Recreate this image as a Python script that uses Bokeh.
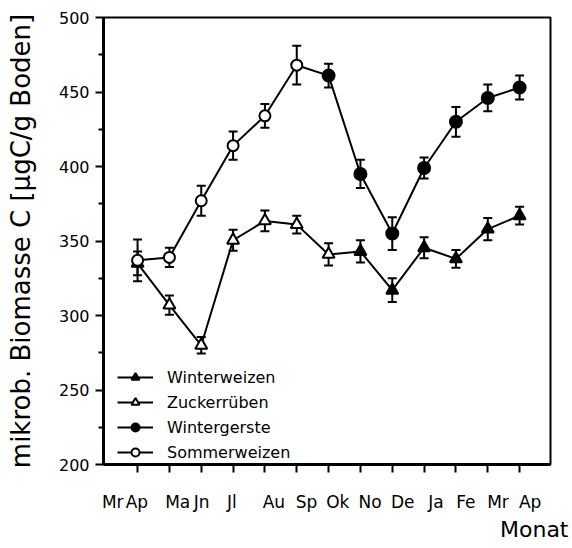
from bokeh.plotting import figure
from bokeh.models import (ColumnDataSource, Range1d, FixedTicker,
                          Whisker, TeeHead, Legend, LegendItem, Title)
from bokeh.embed import file_html
from bokeh.resources import INLINE

# Month labels along the time axis (March of year 1 to April of year 2)
month_labels = ["Mr", "Ap", "Ma", "Jn", "Jl", "Au", "Sp", "Ok",
                "No", "De", "Ja", "Fe", "Mr", "Ap"]

# Sampling dates (index on the month axis)
sommerweizen_t = [1, 2, 3, 4, 5, 6]
sommerweizen_c = [337, 339, 377, 414, 434, 468]
sommerweizen_err = [14, 6.5, 10, 9.5, 8, 13]

wintergerste_t = [7, 8, 9, 10, 11, 12, 13]
wintergerste_c = [461, 395, 355, 399, 430, 446, 453]
wintergerste_err = [8, 9.5, 11, 7, 10, 9, 8]

zuckerrueben_t = [2, 3, 4, 5, 6, 7]
zuckerrueben_c = [307, 280, 350.5, 363.5, 361, 341]
zuckerrueben_err = [6.5, 5.5, 7, 7, 6, 7.5]

winterweizen_t = [1, 8, 9, 10, 11, 12, 13]
winterweizen_c = [335, 343, 317, 345.5, 338, 358, 367]
winterweizen_err = [8, 7.5, 8, 7, 6, 7.5, 6]

# Layout of the month labels (axis units); they sit slightly right of the ticks
label_pos = [0.22, 0.98, 2.26, 3.01, 3.96, 5.28, 6.31, 7.29,
             8.30, 9.33, 10.37, 11.31, 12.32, 13.33]

FONT = "DejaVu Sans"


def src(t, c, e):
    return ColumnDataSource(dict(t=t, c=c,
                                 lo=[v - d for v, d in zip(c, e)],
                                 hi=[v + d for v, d in zip(c, e)]))


def joined(t1, c1, t2, c2):
    pairs = sorted(zip(t1 + t2, c1 + c2))
    return [q[0] for q in pairs], [q[1] for q in pairs]


p = figure(width=572, height=548, output_backend="svg", toolbar_location=None,
           x_range=Range1d(-0.07, 13.97), y_range=Range1d(200, 500),
           min_border_left=103, min_border_right=22, min_border_top=17,
           min_border_bottom=84)
p.grid.visible = False
p.outline_line_color = "black"
p.outline_line_width = 2
p.background_fill_color = "white"
p.border_fill_color = "white"

# connecting lines
tt, tc = joined(winterweizen_t, winterweizen_c, zuckerrueben_t, zuckerrueben_c)
ct, cc = joined(sommerweizen_t, sommerweizen_c, wintergerste_t, wintergerste_c)
line_tri = p.line(tt, tc, line_color="black", line_width=2)
line_circ = p.line(ct, cc, line_color="black", line_width=2)

sources = {
    "ww": src(winterweizen_t, winterweizen_c, winterweizen_err),
    "zr": src(zuckerrueben_t, zuckerrueben_c, zuckerrueben_err),
    "wg": src(wintergerste_t, wintergerste_c, wintergerste_err),
    "sw": src(sommerweizen_t, sommerweizen_c, sommerweizen_err),
}
for s in sources.values():
    p.add_layout(Whisker(source=s, base="t", upper="hi", lower="lo",
                         line_width=2, line_color="black",
                         upper_head=TeeHead(size=9, line_width=2),
                         lower_head=TeeHead(size=9, line_width=2)))

r_ww = p.scatter("t", "c", source=sources["ww"], marker="triangle", size=12,
                 fill_color="black", line_color="black", line_width=2)
r_zr = p.scatter("t", "c", source=sources["zr"], marker="triangle", size=12,
                 fill_color="white", line_color="black", line_width=2)
r_wg = p.scatter("t", "c", source=sources["wg"], marker="circle", size=12,
                 fill_color="black", line_color="black", line_width=2)
r_sw = p.scatter("t", "c", source=sources["sw"], marker="circle", size=11,
                 fill_color="white", line_color="black", line_width=2)

# y axis
yax = p.yaxis[0]
yax.ticker = FixedTicker(ticks=[200, 250, 300, 350, 400, 450, 500],
                         minor_ticks=[225, 275, 325, 375, 425, 475])
yax.axis_label = "mikrob. Biomasse C [\u03bcgC/g Boden]"
yax.axis_label_text_font = FONT
yax.axis_label_text_font_style = "normal"
yax.axis_label_text_font_size = "26px"
yax.axis_label_text_color = "black"
yax.axis_label_standoff = 20
yax.major_label_text_font = FONT
yax.major_label_text_font_size = "16px"
yax.major_label_text_color = "black"
yax.major_label_standoff = 6
yax.axis_line_width = 3
yax.major_tick_line_width = 2
yax.minor_tick_line_width = 2
yax.major_tick_out = 8
yax.major_tick_in = 0
yax.minor_tick_out = 5
yax.minor_tick_in = 0

# x axis: tick marks at the sampling dates (drawn as minor ticks),
# month names placed just right of them
xax = p.xaxis[0]
xax.ticker = FixedTicker(ticks=label_pos, minor_ticks=list(range(1, 14)))
xax.major_label_overrides = {pos: m for pos, m in zip(label_pos, month_labels)}
xax.axis_line_width = 3
xax.major_tick_line_color = None
xax.major_tick_out = 0
xax.major_tick_in = 0
xax.minor_tick_line_width = 2
xax.minor_tick_out = 8
xax.minor_tick_in = 0
xax.major_label_text_font = FONT
xax.major_label_text_font_size = "17px"
xax.major_label_text_color = "black"
xax.major_label_standoff = 19

p.add_layout(Title(text="Monat", align="right", offset=-18, standoff=0,
                   text_font=FONT, text_font_size="22px",
                   text_font_style="normal", text_color="black"), "below")

legend = Legend(items=[
    LegendItem(label="Winterweizen", renderers=[line_tri, r_ww]),
    LegendItem(label="Zuckerr\u00fcben", renderers=[line_tri, r_zr]),
    LegendItem(label="Wintergerste", renderers=[line_circ, r_wg]),
    LegendItem(label="Sommerweizen", renderers=[line_circ, r_sw]),
], location=(14, 2), glyph_width=36, glyph_height=20, label_height=20,
    spacing=5, padding=2, margin=0, label_standoff=14,
    label_text_font=FONT, label_text_font_size="16px", label_text_color="black",
    background_fill_alpha=0, border_line_color=None)
p.add_layout(legend)

open("out.html", "w").write(file_html(p, INLINE))
